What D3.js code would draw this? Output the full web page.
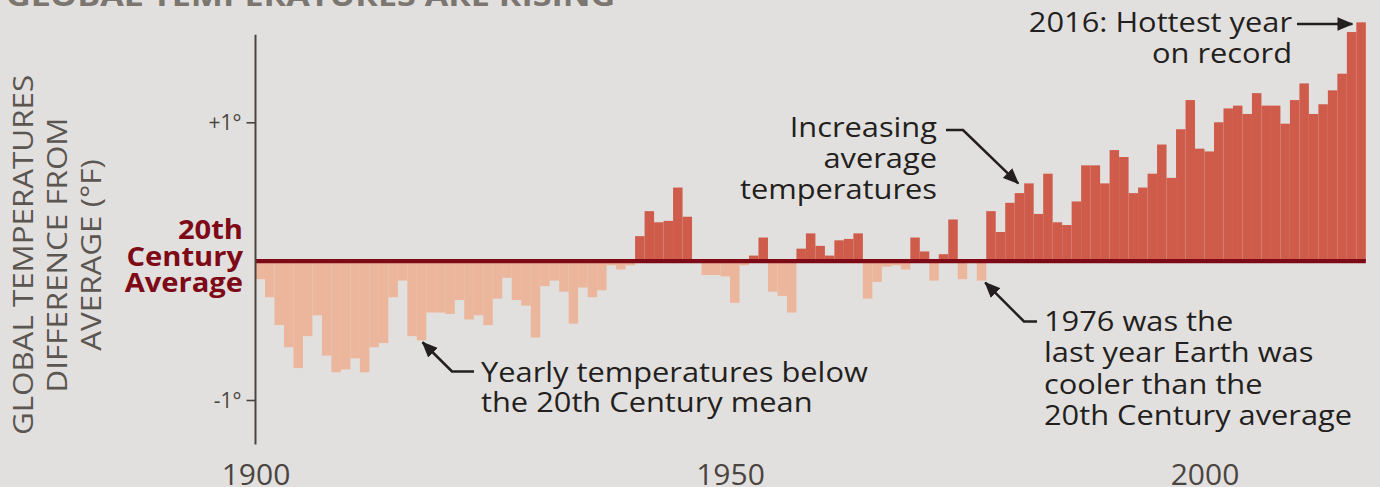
<!DOCTYPE html>
<html>
<head>
<meta charset="utf-8">
<script src="https://cdn.jsdelivr.net/npm/d3@7"></script>
<style>
  body { margin: 0; background: #e2e0de; }
  svg { display: block; }
</style>
</head>
<body>
<div class="temp-figure"></div>
<script>
const w = 1380;
const h = 487;

// yearly anomalies vs 20th century mean, deg F
const years = d3.range(1900, 2017);
const anomalies = [
  -0.13, -0.26, -0.46, -0.62, -0.77, -0.54, -0.39, -0.68, -0.80, -0.78, // 1900s
  -0.70, -0.80, -0.62, -0.59, -0.26, -0.14, -0.54, -0.57, -0.37, -0.37, // 1910s
  -0.38, -0.28, -0.42, -0.39, -0.46, -0.27, -0.12, -0.28, -0.32, -0.55, // 1920s
  -0.18, -0.14, -0.22, -0.45, -0.19, -0.26, -0.21, -0.03, -0.06, -0.03, // 1930s
   0.18,  0.36,  0.28,  0.29,  0.53,  0.32, -0.01, -0.10, -0.10, -0.11, // 1940s
  -0.30, -0.03,  0.04,  0.17, -0.22, -0.25, -0.37,  0.09,  0.20,  0.11, // 1950s
   0.04,  0.15,  0.16,  0.20, -0.27, -0.15, -0.04, -0.03, -0.06,  0.17, // 1960s
   0.07, -0.14,  0.05,  0.30, -0.13, -0.01, -0.14,  0.36,  0.21,  0.42, // 1970s
   0.49,  0.56,  0.34,  0.63,  0.28,  0.26,  0.43,  0.69,  0.69,  0.56, // 1980s
   0.80,  0.75,  0.49,  0.53,  0.63,  0.84,  0.60,  0.95,  1.16,  0.81, // 1990s
   0.79,  1.00,  1.10,  1.12,  1.06,  1.21,  1.12,  1.12,  0.99,  1.16, // 2000s
   1.28,  1.06,  1.13,  1.23,  1.35,  1.65,  1.72                        // 2010s
];
const xTicks = [1900, 1950, 2000];
const yTicks = [-1, 1];

const title = "GLOBAL TEMPERATURES ARE RISING";
const yTitle = ["GLOBAL TEMPERATURES", "DIFFERENCE FROM", "AVERAGE (°F)"];
const baselineLabel = ["20th", "Century", "Average"];
const noteBelow = ["Yearly temperatures below", "the 20th Century mean"];
const noteRising = ["Increasing", "average", "temperatures"];
const noteHottest = ["2016: Hottest year", "on record"];
const note1976 = ["1976 was the", "last year Earth was", "cooler than the", "20th Century average"];

const colWarm = "#cf5b4b";
const colCool = "#ebb69b";
const colZero = "#7d0a16";
const colAxis = "#4a4540";
const colInk = "#231f20";
const fontFamily = "'Open Sans', 'Noto Sans', sans-serif";

const data = years.map((yr, i) => ({ year: yr, value: anomalies[i] }));

let x = d3.scaleLinear()
  .domain([1900, 2017])
  .range([255.5, 255.5 + 117 * 9.49]);

let y = d3.scaleLinear()
  .domain([-1, 1])
  .range([400, 122.3]);

let svg = d3.select("body").select(".temp-figure")
  .append("svg")
  .attr("width", w)
  .attr("height", h)
  .style("font-family", fontFamily);

svg.append("rect")
  .attr("width", w)
  .attr("height", h)
  .attr("fill", "#e2e0de");

// the original face is wider than Open Sans, stretch text horizontally
function widen(sel, k) {
  sel.each(function() {
    const n = this.getComputedTextLength();
    d3.select(this)
      .attr("textLength", n * k)
      .attr("lengthAdjust", "spacingAndGlyphs");
  });
}

// arrow head
svg.append("defs").append("marker")
  .attr("id", "head")
  .attr("markerUnits", "userSpaceOnUse")
  .attr("viewBox", "0 0 14 12")
  .attr("refX", 13)
  .attr("refY", 6)
  .attr("markerWidth", 16)
  .attr("markerHeight", 14)
  .attr("orient", "auto")
  .append("path")
  .attr("d", "M0,0 L14,6 L0,12 Z")
  .attr("fill", colInk);

// title, mostly cropped off the top
svg.append("text")
  .attr("x", 6)
  .attr("y", 6)
  .attr("fill", "#7b7670")
  .attr("font-size", 28)
  .attr("font-weight", 700)
  .text(title)
  .call(widen, 1.22);

// bars
svg.append("g")
  .selectAll("rect")
  .data(data)
  .enter()
  .append("rect")
  .attr("x", (d) => x(d.year))
  .attr("width", (d) => x(d.year + 1) - x(d.year))
  .attr("y", (d) => d.value >= 0 ? y(d.value) : y(0))
  .attr("height", (d) => Math.abs(y(d.value) - y(0)))
  .attr("fill", (d) => d.value >= 0 ? colWarm : colCool);

// zero line
svg.append("line")
  .attr("x1", x(1900))
  .attr("x2", x(2017))
  .attr("y1", y(0))
  .attr("y2", y(0))
  .attr("stroke", colZero)
  .attr("stroke-width", 4.4);

// y axis
let yAxis = svg.append("g")
  .attr("transform", `translate(${x(1900)},0)`)
  .call(d3.axisLeft(y)
    .tickValues(yTicks)
    .tickSize(9)
    .tickPadding(5)
    .tickFormat((d) => (d > 0 ? "+" : "-") + Math.abs(d) + "°"));
yAxis.select(".domain").remove();
yAxis.selectAll(".tick line").attr("stroke", colAxis).attr("stroke-width", 1.6);
yAxis.selectAll(".tick text")
  .attr("fill", colAxis)
  .attr("font-size", 21)
  .attr("font-weight", 500)
  .attr("font-family", fontFamily)
  .attr("dy", "0.36em");

svg.append("line")
  .attr("x1", x(1900))
  .attr("x2", x(1900))
  .attr("y1", y(1.63))
  .attr("y2", y(-1.32))
  .attr("stroke", colAxis)
  .attr("stroke-width", 2);

// x axis labels
let xAxis = svg.append("g")
  .attr("transform", "translate(0,455)")
  .call(d3.axisBottom(x)
    .tickValues(xTicks)
    .tickSize(0)
    .tickPadding(0)
    .tickFormat(d3.format("d")));
xAxis.select(".domain").remove();
xAxis.selectAll(".tick text")
  .attr("fill", colAxis)
  .attr("font-size", 30)
  .attr("font-weight", 500)
  .attr("font-family", fontFamily)
  .attr("dy", null)
  .attr("y", 29.5);

// rotated y title
let yt = svg.append("g")
  .attr("transform", "translate(0,255) rotate(-90)");
yt.selectAll("text")
  .data(yTitle)
  .enter()
  .append("text")
  .attr("x", 0)
  .attr("y", (d, i) => 33 + i * 34)
  .attr("text-anchor", "middle")
  .attr("fill", "#5b5651")
  .attr("font-size", 27)
  .text((d) => d)
  .call(widen, 1.16);

// "20th Century Average" next to the zero line
svg.append("g")
  .selectAll("text")
  .data(baselineLabel)
  .enter()
  .append("text")
  .attr("x", 243)
  .attr("y", (d, i) => y(0) - 22 + i * 26.5)
  .attr("text-anchor", "end")
  .attr("fill", colZero)
  .attr("font-size", 26)
  .attr("font-weight", 700)
  .text((d) => d)
  .call(widen, 1.12);

function note(lines, px, py, anchor, lh) {
  svg.append("g")
    .selectAll("text")
    .data(lines)
    .enter()
    .append("text")
    .attr("x", px)
    .attr("y", (d, i) => py + i * lh)
    .attr("text-anchor", anchor)
    .attr("fill", colInk)
    .attr("font-size", 27.5)
    .attr("font-weight", 500)
    .text((d) => d)
    .call(widen, 1.12);
}

function arrow(points) {
  svg.append("path")
    .attr("d", d3.line()(points))
    .attr("fill", "none")
    .attr("stroke", colInk)
    .attr("stroke-width", 2.6)
    .attr("marker-end", "url(#head)");
}

const val = (yr) => anomalies[years.indexOf(yr)];

note(noteBelow, 481, 382, "start", 30);
arrow([[474, 371.5], [452, 371.5], [x(1917.6), y(val(1917)) + 2]]);

note(noteRising, 937, 137, "end", 31);
arrow([[946, 130], [963, 130], [x(1981) - 6, y(val(1981))]]);

note(noteHottest, 1292, 32, "end", 31);
arrow([[1297, 24], [x(2016) - 4, 24]]);

note(note1976, 1044, 331, "start", 31.3);
arrow([[1037, 321.5], [1024, 321.5], [x(1977) - 1, y(val(1976)) + 2]]);
</script>
</body>
</html>
